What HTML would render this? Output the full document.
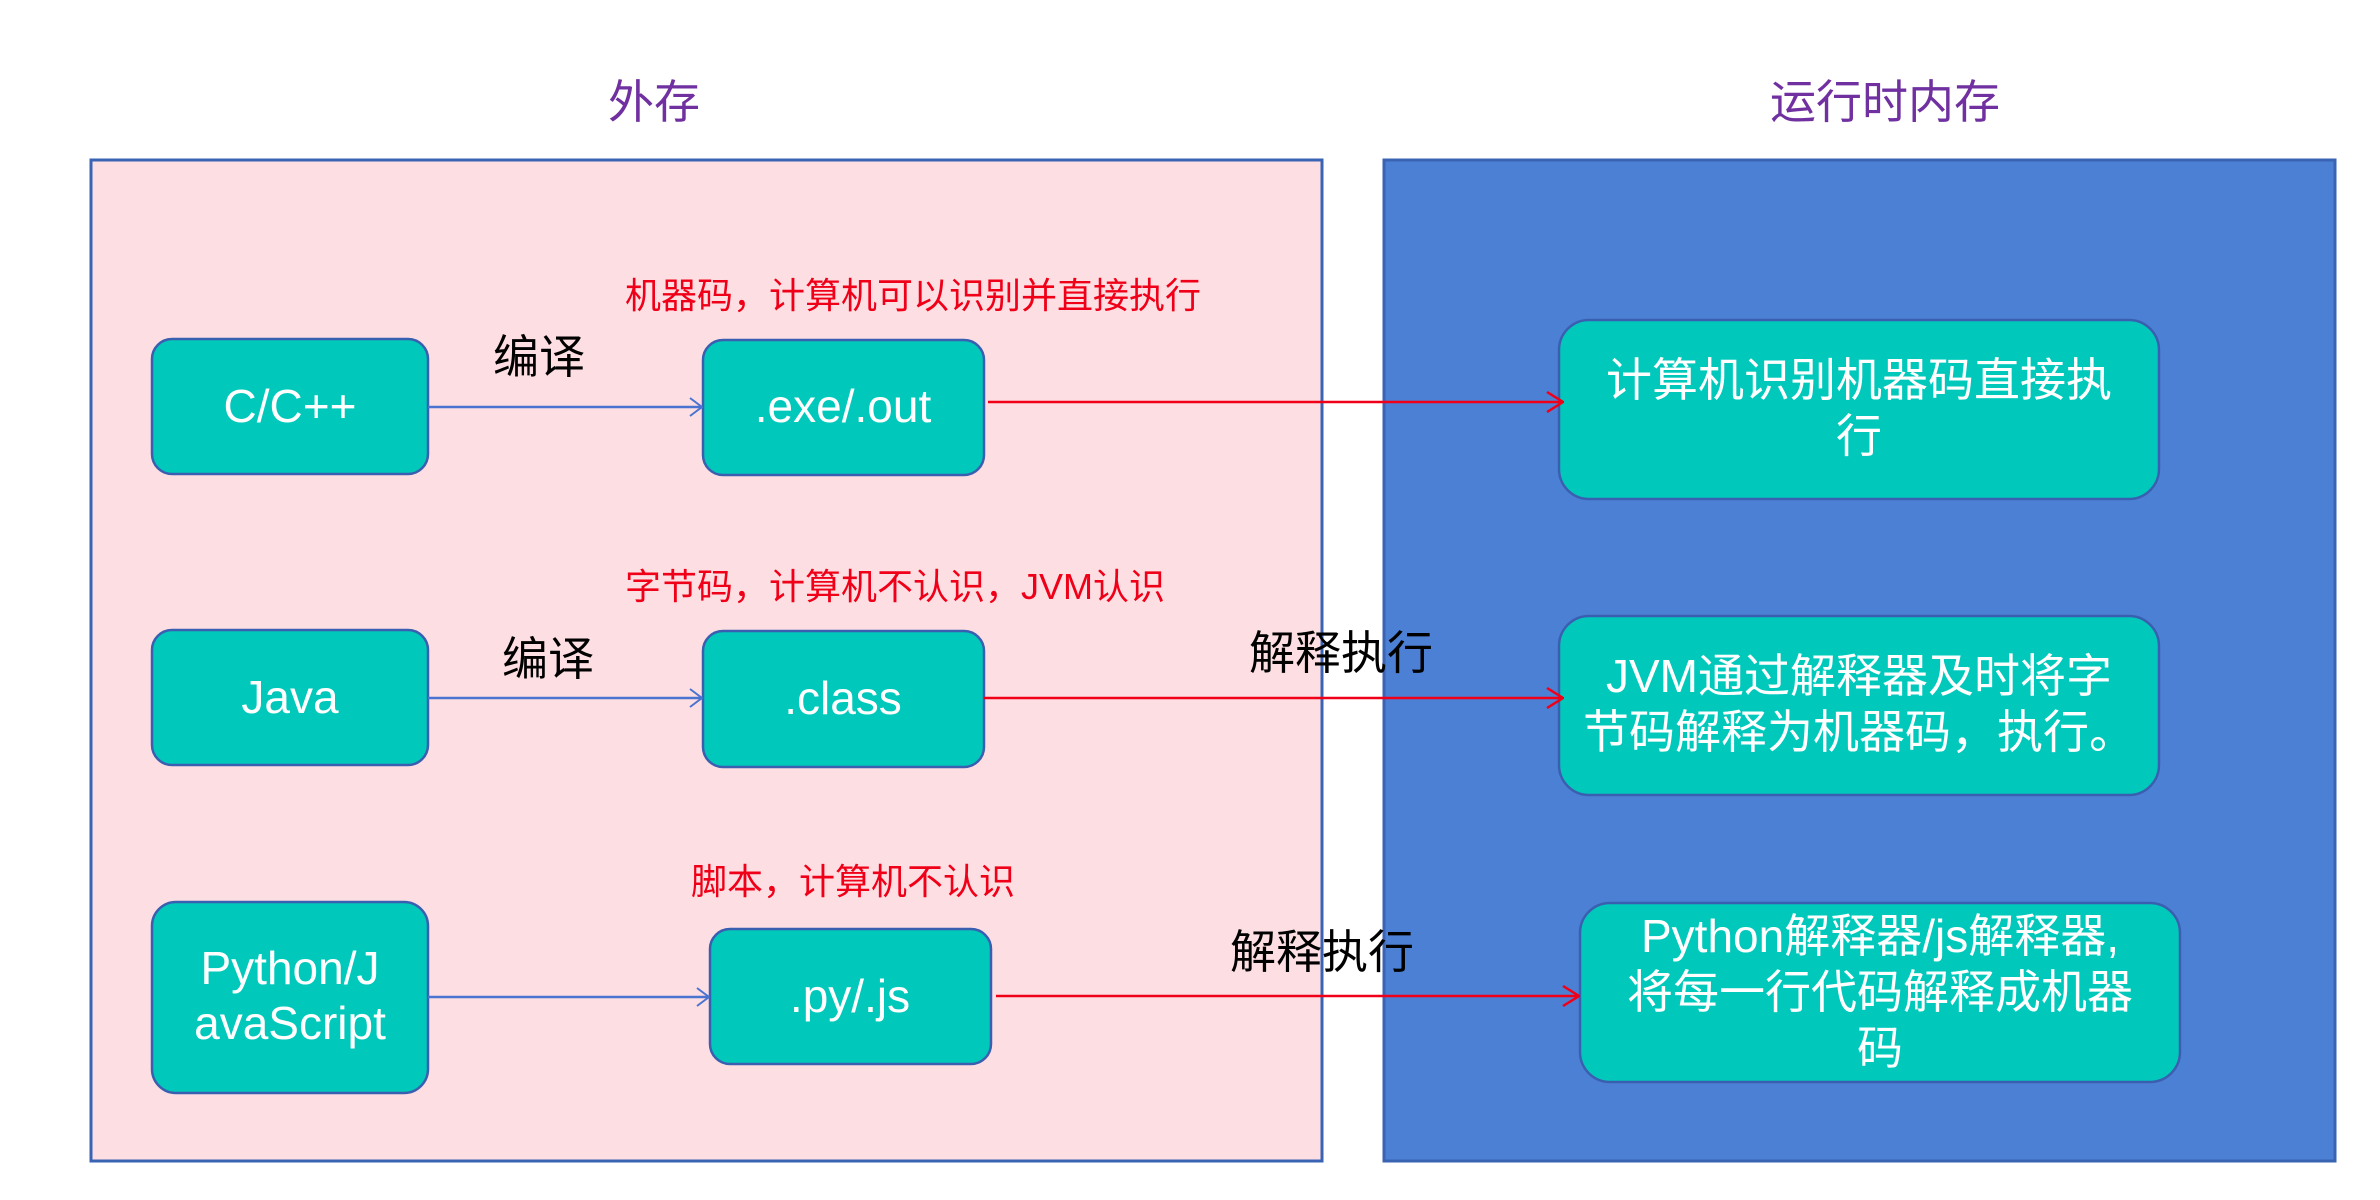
<!DOCTYPE html>
<html><head><meta charset="utf-8"><style>
html,body{margin:0;padding:0;background:#fff}
svg{display:block}
text{font-family:"Liberation Sans","Noto Sans CJK SC",sans-serif}
</style></head><body>
<svg width="2380" height="1200" xmlns="http://www.w3.org/2000/svg">
<defs>
<marker id="ab" markerWidth="14" markerHeight="20" refX="13" refY="10" orient="auto" markerUnits="userSpaceOnUse"><path d="M1,1 L13,10 L1,19" fill="none" stroke="#4a74d0" stroke-width="2"/></marker>
<marker id="ar" markerWidth="18" markerHeight="22" refX="17" refY="11" orient="auto" markerUnits="userSpaceOnUse"><path d="M1,1 L17,11 L1,21" fill="none" stroke="#f00018" stroke-width="2.5"/></marker>
</defs>
<text x="654" y="118" font-size="46" fill="#7030a0" text-anchor="middle">外存</text>
<text x="1885" y="118" font-size="46" fill="#7030a0" text-anchor="middle">运行时内存</text>
<rect x="91" y="160" width="1231" height="1001" fill="#fddfe3" stroke="#3a63b4" stroke-width="3"/>
<rect x="1384" y="160" width="951" height="1001" fill="#4c80d4" stroke="#3a63b4" stroke-width="3"/>
<g fill="#00c9bc" stroke="#3a5fb0" stroke-width="2.5">
<rect x="152" y="339" width="276" height="135" rx="20"/>
<rect x="703" y="340" width="281" height="135" rx="20"/>
<rect x="152" y="630" width="276" height="135" rx="20"/>
<rect x="703" y="631" width="281" height="136" rx="20"/>
<rect x="152" y="902" width="276" height="191" rx="24"/>
<rect x="710" y="929" width="281" height="135" rx="20"/>
<rect x="1559" y="320" width="600" height="179" rx="30"/>
<rect x="1559" y="616" width="600" height="179" rx="30"/>
<rect x="1580" y="903" width="600" height="179" rx="30"/>
</g>
<g stroke="#4a74d0" stroke-width="2.5" fill="none">
<line x1="428" y1="407" x2="702" y2="407" marker-end="url(#ab)"/>
<line x1="428" y1="698" x2="702" y2="698" marker-end="url(#ab)"/>
<line x1="428" y1="997" x2="709" y2="997" marker-end="url(#ab)"/>
</g>
<g stroke="#f00018" stroke-width="2.5" fill="none">
<line x1="988" y1="402" x2="1563" y2="402" marker-end="url(#ar)"/>
<line x1="984" y1="698" x2="1563" y2="698" marker-end="url(#ar)"/>
<line x1="996" y1="996" x2="1579" y2="996" marker-end="url(#ar)"/>
</g>
<g font-size="36" fill="#f00018">
<text x="625" y="308">机器码，计算机可以识别并直接执行</text>
<text x="625" y="599">字节码，计算机不认识，JVM认识</text>
<text x="691" y="894">脚本，计算机不认识</text>
</g>
<g font-size="46" fill="#000">
<text x="493" y="373">编译</text>
<text x="502" y="675">编译</text>
<text x="1249" y="669">解释执行</text>
<text x="1230" y="968">解释执行</text>
</g>
<g font-size="46" fill="#fff" text-anchor="middle">
<text x="290" y="422">C/C++</text>
<text x="843" y="422">.exe/.out</text>
<text x="290" y="713">Java</text>
<text x="843" y="714">.class</text>
<text x="290" y="984">Python/J</text>
<text x="290" y="1039">avaScript</text>
<text x="850" y="1012">.py/.js</text>
<text x="1859" y="396">计算机识别机器码直接执</text>
<text x="1859" y="452">行</text>
<text x="1859" y="692">JVM通过解释器及时将字</text>
<text x="1859" y="748">节码解释为机器码，执行。</text>
<text x="1880" y="952">Python解释器/js解释器,</text>
<text x="1880" y="1008">将每一行代码解释成机器</text>
<text x="1880" y="1064">码</text>
</g>
</svg>
</body></html>
